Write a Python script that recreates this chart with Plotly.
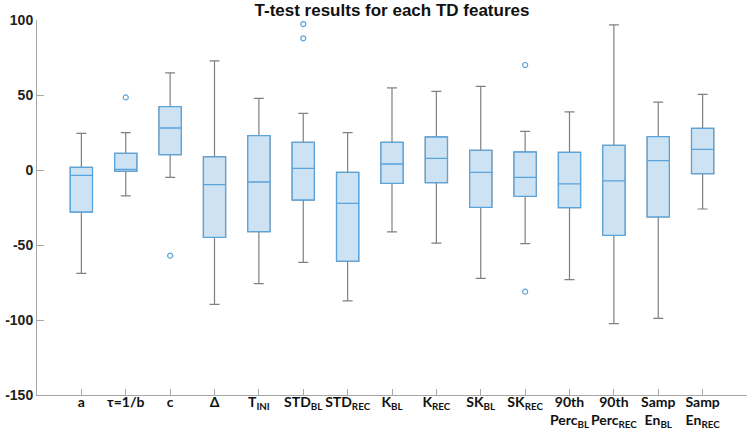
import plotly.graph_objects as go

labels = ["a", "τ=1/b", "c", "Δ", "T<sub>INI</sub>", "STD<sub>BL</sub>", "STD<sub>REC</sub>",
          "K<sub>BL</sub>", "K<sub>REC</sub>", "SK<sub>BL</sub>", "SK<sub>REC</sub>",
          "90th<br>Perc<sub>BL</sub>", "90th<br>Perc<sub>REC</sub>", "Samp<br>En<sub>BL</sub>", "Samp<br>En<sub>REC</sub>"]
positions = list(range(1, 16))

upper_whisker = [24.4, 24.9, 64.7, 72.7, 47.8, 37.8, 24.9, 54.7, 52.4, 55.8, 25.8, 38.7, 96.7, 45.3, 50.4]
q3 = [1.8, 11.1, 42.2, 8.7, 22.9, 18.4, -1.6, 18.4, 22.0, 13.1, 12.0, 11.8, 16.4, 22.2, 27.8]
median = [-3.6, 0.4, 28.0, -9.8, -8.0, 1.1, -22.2, 4.0, 7.8, -1.6, -4.9, -9.3, -7.3, 6.2, 13.8]
q1 = [-28.0, -0.7, 10.2, -44.9, -41.1, -20.0, -60.7, -8.9, -8.4, -24.9, -17.6, -25.1, -43.6, -31.3, -2.4]
lower_whisker = [-68.9, -17.3, -4.9, -89.6, -75.8, -61.6, -87.3, -41.3, -48.7, -72.2, -49.1, -73.1, -102.4, -98.9, -26.0]

outlier_x = [2, 3, 6, 6, 11, 11]
outlier_y = [48.4, -57.1, 97.3, 87.8, 70.0, -81.1]

BLUE = "#5aa3db"
FILL = "#cde3f3"
GRAY = "#808080"

fig = go.Figure()
# whiskers (gray)
fig.add_trace(go.Box(
    x=positions, q1=q1, median=median, q3=q3,
    lowerfence=lower_whisker, upperfence=upper_whisker,
    width=0.5, whiskerwidth=0.45, boxpoints=False,
    line=dict(color=GRAY, width=1.2), fillcolor="rgba(0,0,0,0)",
    showlegend=False, hoverinfo="skip"))
# boxes (blue)
fig.add_trace(go.Box(
    x=positions, q1=q1, median=median, q3=q3,
    lowerfence=q1, upperfence=q3,
    width=0.5, whiskerwidth=0, boxpoints=False,
    line=dict(color=BLUE, width=1.3), fillcolor=FILL,
    showlegend=False))
# outliers
fig.add_trace(go.Scatter(
    x=outlier_x, y=outlier_y, mode="markers",
    marker=dict(symbol="circle-open", size=5, color=BLUE, line=dict(width=1.2)),
    showlegend=False))

fig.update_layout(
    width=749, height=430,
    margin=dict(l=37, r=2, t=20, b=35),
    paper_bgcolor="white", plot_bgcolor="white",
    title=dict(text="<b>T-test results for each TD features</b>", x=0.5, xanchor="center",
               xref="paper", y=0.977, yanchor="middle",
               font=dict(family="Liberation Sans, Arial", size=17, color="#111")),
    xaxis=dict(range=[0, 16], tickmode="array", tickvals=positions,
               ticktext=["<b>" + t + "</b>" for t in labels], tickangle=0,
               showgrid=False, zeroline=False, showline=True, linecolor="#a6a6a6", linewidth=1,
               ticks="inside", ticklen=6, tickcolor="#a6a6a6", ticklabelstandoff=-6,
               tickfont=dict(family="Lato, Open Sans", size=14, color="#111"), automargin=False),
    yaxis=dict(range=[-150, 100], tickvals=[-150, -100, -50, 0, 50, 100],
               ticktext=["<b>%d</b>" % v for v in [-150, -100, -50, 0, 50, 100]],
               showgrid=False, zeroline=False, showline=True, linecolor="#a6a6a6", linewidth=1,
               ticks="inside", ticklen=7, tickcolor="#a6a6a6",
               tickfont=dict(family="Liberation Sans, Arial", size=14, color="#222"), automargin=False),
)

fig.write_html("out.html", config={"displayModeBar": False},
               post_script="document.body.style.margin='0';document.body.style.overflow='hidden';")
